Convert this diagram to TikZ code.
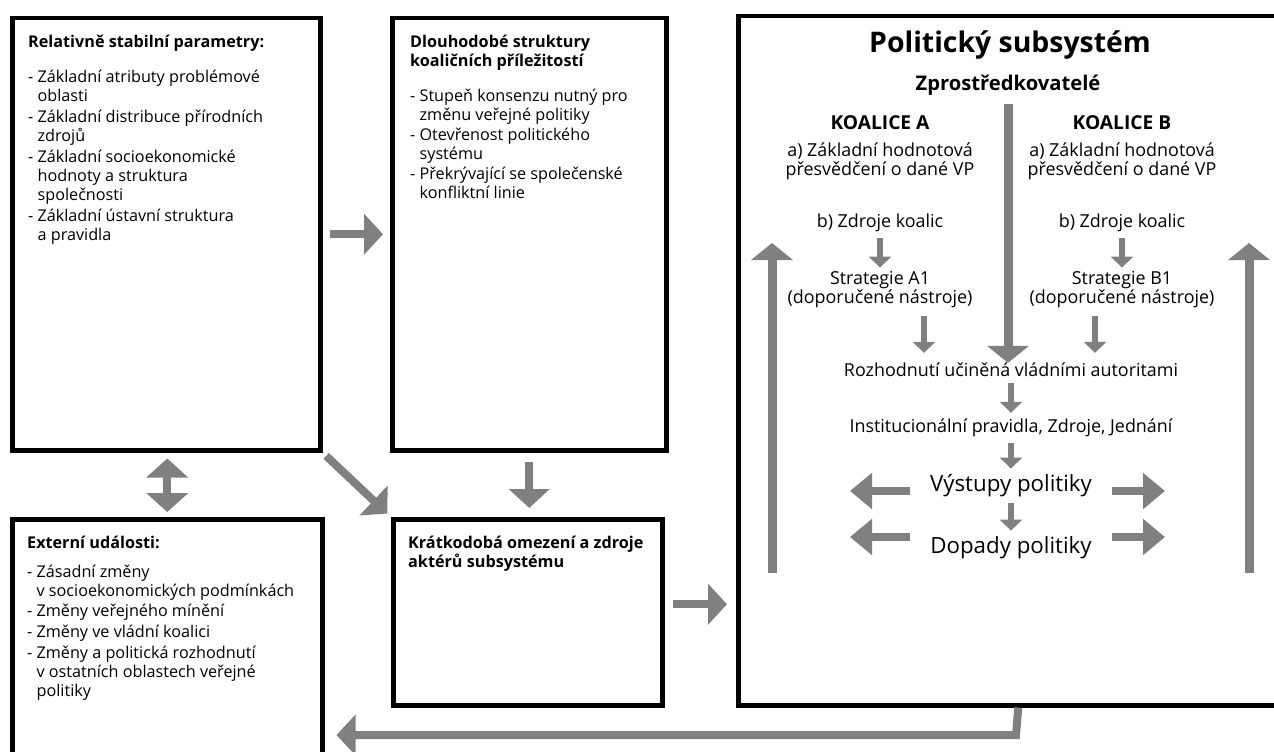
\documentclass[tikz,border=0pt]{standalone}
\usepackage{fontspec}
\setmainfont{Open Sans}
\usetikzlibrary{arrows.meta,positioning}
\tikzset{%
  % Specifications for style of nodes:
        box/.style = {rectangle, draw=black, line width=4.5pt, anchor=north west,
                      inner sep=0pt},
   boxtext/.style = {anchor=north west, align=left, inner sep=0pt,
                     font=\fontsize{16.2}{19}\selectfont},
   midtext/.style = {align=center, inner sep=0pt, font=\fontsize{17.9}{19}\selectfont},
   bigtext/.style = {align=center, inner sep=0pt, font=\fontsize{22.3}{24}\selectfont},
  % Specifications for style of arrows:
  fatarrow/.style = {draw=gray, line width=8pt, -{Triangle[width=40pt,length=19pt]}},
  twoarrow/.style = {draw=gray, line width=8pt,
                     {Triangle[width=41pt,length=19pt]}-{Triangle[width=41pt,length=19pt]}},
  tallarrow/.style = {draw=gray, line width=9pt, -{Triangle[width=41pt,length=17pt]}},
  sidearrow/.style = {draw=gray, line width=8pt, -{Triangle[width=35pt,length=22pt]}},
  thinarrow/.style = {draw=gray, line width=5.5pt, -{Triangle[width=22pt,length=11pt]}},
}
\newcommand{\ind}{\phantom{- }}

\begin{document}
\begin{tikzpicture}[x=1pt, y=-1pt, node distance=58pt]
  \clip (0,0) rectangle (1274,752);
  % Specification of the boxes
  \node (stable)    [box, minimum width=308pt, minimum height=432pt] at (10,16)  {};
  \node (longterm)  [box, minimum width=274pt, minimum height=432pt] at (390,16) {};
  \node (subsystem) [box, minimum width=560pt, minimum height=689pt] at (736,14) {};
  \node (external)  [box, minimum width=310pt, minimum height=290pt] at (10,517) {};
  \node (shortterm) [box, minimum width=269pt, minimum height=186pt] at (391,517) {};

  % Texts in the boxes
  \node (stabletext) [boxtext] at ([shift={(18,19)}]stable.north west)
    {\textbf{Relativně stabilní parametry:}\\[16pt]
     - Základní atributy problémové\\ \ind oblasti\\[2pt]
     - Základní distribuce přírodních\\ \ind zdrojů\\[2pt]
     - Základní socioekonomické\\ \ind hodnoty a struktura\\ \ind společnosti\\[2pt]
     - Základní ústavní struktura\\ \ind a pravidla};
  \node (longtermtext) [boxtext] at ([shift={(20,19)}]longterm.north west)
    {\textbf{Dlouhodobé struktury}\\ \textbf{koaličních příležitostí}\\[16pt]
     - Stupeň konsenzu nutný pro\\ \ind změnu veřejné politiky\\[1pt]
     - Otevřenost politického\\ \ind systému\\[1pt]
     - Překrývající se společenské\\ \ind konfliktní linie};
  \node (externaltext) [boxtext] at ([shift={(17,19)}]external.north west)
    {\textbf{Externí události:}\\[10pt]
     - Zásadní změny\\ \ind v socioekonomických podmínkách\\[1pt]
     - Změny veřejného mínění\\[2pt]
     - Změny ve vládní koalici\\[2pt]
     - Změny a politická rozhodnutí\\ \ind v ostatních oblastech veřejné\\ \ind politiky};
  \node (shorttermtext) [boxtext] at ([shift={(17,19)}]shortterm.north west)
    {\textbf{Krátkodobá omezení a zdroje}\\ \textbf{aktérů subsystému}};

  % Specification of nodes in the subsystem
  \node (title)   [inner sep=0pt, font=\bfseries\fontsize{28.4}{30}\selectfont] at (1010,45) {Politický subsystém};
  \node (broker)  [inner sep=0pt, font=\bfseries\fontsize{20.2}{22}\selectfont] at (1008,85) {Zprostředkovatelé};
  \node (koalA)   [inner sep=0pt, font=\bfseries\fontsize{19.2}{20}\selectfont] at (880,123) {KOALICE A};
  \node (koalB)   [inner sep=0pt, font=\bfseries\fontsize{19.2}{20}\selectfont] at (1122,123) {KOALICE B};
  \node (beliefA) [midtext] at (880,161)  {a) Základní hodnotová\\přesvědčení o dané VP};
  \node (beliefB) [midtext] at (1122,161) {a) Základní hodnotová\\přesvědčení o dané VP};
  \node (resA)    [midtext] at (880,223)  {b) Zdroje koalic};
  \node (resB)    [midtext] at (1122,223) {b) Zdroje koalic};
  \node (stratA)  [midtext] at (880,290)  {Strategie A1\\(doporučené nástroje)};
  \node (stratB)  [midtext] at (1122,290) {Strategie B1\\(doporučené nástroje)};
  \node (decision) [midtext] at (1011,370) {Rozhodnutí učiněná vládními autoritami};
  \node (rules)    [midtext, below of=decision] {Institucionální pravidla, Zdroje, Jednání};
  \node (outputs)  [bigtext, below of=rules]    {Výstupy politiky};
  \node (impacts)  [bigtext, below of=outputs, yshift=-4pt] {Dopady politiky};

  \coordinate (upLa) at (772,573);
  \coordinate (upLb) at (772,243);
  \coordinate (upRa) at (1249,573);
  \coordinate (upRb) at (1249,243);
  \coordinate (outL) at (850,491);
  \coordinate (outR) at (1165,491);
  \coordinate (impL) at (850,537);
  \coordinate (impR) at (1165,537);
  \coordinate (turn) at (1016,735);

  % Specification of lines between nodes specified above
  \draw[fatarrow, shorten <=7pt, shorten >=7pt] (stable) -- (longterm);
  \draw[twoarrow, shorten <=6pt, shorten >=5pt] (stable.south -| external.north) -- (external.north);
  \draw[fatarrow, shorten <=5pt, shorten >=5pt] (stable.south east) -- (shortterm.north west);
  \draw[fatarrow, shorten <=9pt, shorten >=9pt] (longterm.south) -- (longterm.south |- shortterm.north);
  \draw[fatarrow, shorten <=8pt, shorten >=9pt] ([yshift=8pt]shortterm.east) -- ([yshift=8pt]shortterm.east -| subsystem.west);
  \draw[fatarrow, shorten >=12pt] (subsystem.south) -- (turn) -- (turn -| external.east);

  % arrows inside the subsystem
  \draw[tallarrow, shorten <=9pt] (broker.south) -- (broker.south |- decision.north);
  \draw[thinarrow, shorten <=6pt, shorten >=4pt] (resA) -- (stratA);
  \draw[thinarrow, shorten <=6pt, shorten >=4pt] (resB) -- (stratB);
  \draw[thinarrow, shorten <=8pt, shorten >=10pt] ([xshift=44pt]stratA.south) -- ([xshift=44pt]stratA.south |- decision.north);
  \draw[thinarrow, shorten <=8pt, shorten >=10pt] ([xshift=-27pt]stratB.south) -- ([xshift=-27pt]stratB.south |- decision.north);
  \draw[thinarrow, shorten <=6pt, shorten >=6pt] (decision) -- (rules);
  \draw[thinarrow, shorten <=6pt, shorten >=6pt] (rules) -- (outputs);
  \draw[thinarrow, shorten <=6pt, shorten >=6pt] (outputs) -- (impacts);
  \draw[sidearrow, shorten <=20pt] (outputs.west |- outL) -- (outL);
  \draw[sidearrow, shorten <=20pt] (outputs.east |- outR) -- (outR);
  \draw[sidearrow, shorten <=20pt] (impacts.west |- impL) -- (impL);
  \draw[sidearrow, shorten <=20pt] (impacts.east |- impR) -- (impR);
  \draw[tallarrow] (upLa) -- (upLb);
  \draw[tallarrow] (upRa) -- (upRb);
\end{tikzpicture}
\end{document}
